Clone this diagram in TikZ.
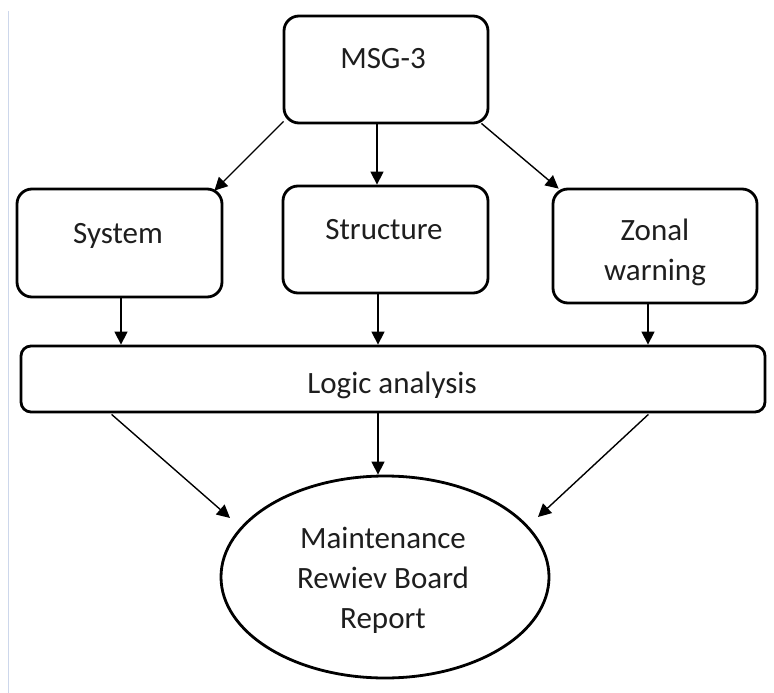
\documentclass[tikz,border=0pt]{standalone}
\usepackage{fontspec}
\setmainfont{Carlito}
\usetikzlibrary{arrows.meta,calc,shapes.geometric}
\definecolor{rulecol}{RGB}{205,215,235}
\definecolor{inkcol}{RGB}{30,30,30}
\begin{document}
\begin{tikzpicture}[x=1pt,y=-1pt,
  stagebox/.style={draw, line width=2.8pt, rounded corners=15pt, inner sep=0pt},
  lbl/.style={anchor=base, align=center, inner sep=0pt, text=inkcol,
              font=\fontsize{31}{40}\selectfont},
  conn/.style={line width=1.4pt, -{Triangle[length=13pt,width=13pt]}}]
\useasboundingbox (0,0) rectangle (774,693);

% thin page rule on the left
\draw[rulecol, line width=1.5pt] (8.5,11) -- (8.5,693);

% boxes
\node[stagebox, minimum width=204pt, minimum height=107pt] (msg)  at (386,69.5) {};
\node[stagebox, minimum width=205pt, minimum height=108pt] (sys)  at (119.5,243) {};
\node[stagebox, minimum width=205pt, minimum height=107pt] (strc) at (385.5,239.5) {};
\node[stagebox, minimum width=204pt, minimum height=114pt] (zon)  at (655,246) {};
\node[stagebox, rounded corners=10pt, minimum width=744pt, minimum height=66pt] (logic) at (393,379) {};
\node[draw, ellipse, line width=2.8pt, inner sep=0pt,
      minimum width=328pt, minimum height=202pt] (mrb) at (385,577) {};

% labels (multi-line labels sit on the baseline of their last line)
\node[lbl] (msgt)  at (383,69)  {MSG-3};
\node[lbl] (syst)  at (118,243) {System};
\node[lbl] (strt)  at (384,239) {Structure};
\node[lbl] (zont)  at (655,280) {Zonal\\warning};
\node[lbl] (logt)  at (392,393) {Logic analysis};
\node[lbl] (mrbt)  at (383,628) {Maintenance\\Rewiev Board\\Report};

% MSG-3 to the three branches
\draw[conn] ($(msg.south west)+(1,-3)$) -- ($(sys.north east)+(-9,3)$);
\draw[conn] ($(msg.south)+(-9,0)$) -- ($(strc.north)+(-8.5,0)$);
\draw[conn] ($(msg.south east)+(-8,-1)$) -- ($(zon.north west)+(7,1)$);

% branches into the logic analysis
\coordinate (sysout) at ($(sys.south)+(1.5,0)$);
\coordinate (strout) at ($(strc.south)+(-7.5,0)$);
\coordinate (zonout) at ($(zon.south)+(-7,0)$);
\draw[conn] (sysout) -- (sysout |- logic.north);
\draw[conn] (strout) -- (strout |- logic.north);
\draw[conn] (zonout) -- (zonout |- logic.north);

% logic analysis into the report
\draw[conn] ($(logic.south west)+(92,1)$) -- ($(mrb.center)+(-155,-59)$);
\draw[conn] ($(logic.south)+(-15,0)$) -- ($(mrb.north)+(-7,0)$);
\draw[conn] ($(logic.south east)+(-118,1)$) -- ($(mrb.center)+(153,-60)$);
\end{tikzpicture}
\end{document}
